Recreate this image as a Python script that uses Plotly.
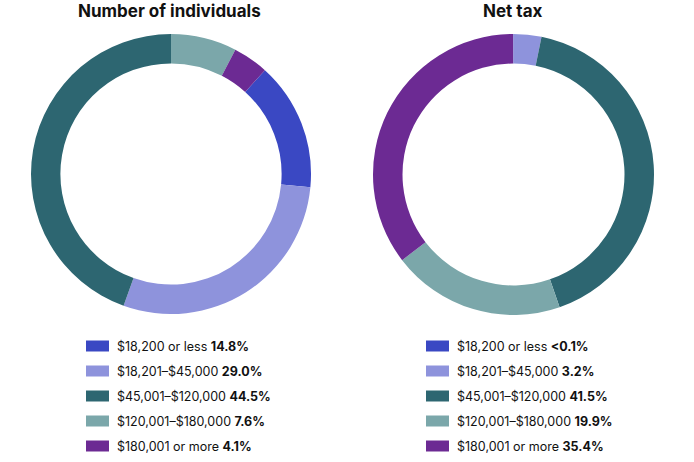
import plotly.graph_objects as go

categories = ["$18,200 or less", "$18,201–$45,000", "$45,001–$120,000",
              "$120,001–$180,000", "$180,001 or more"]
individuals_pct = [14.8, 29.0, 44.5, 7.6, 4.1]
net_tax_pct = [0.05, 3.2, 41.5, 19.9, 35.4]
titles = ["Number of individuals", "Net tax"]
colors = ["#3a48c3", "#8e93dc", "#2d6671", "#7ba7aa", "#6c2a93"]

W, H = 694, 462
FONT = "Inter"


def fmt(v):
    return "&lt;0.1%" if v < 0.1 else f"{v:.1f}%"


fig = go.Figure()

# pixel geometry of each donut: (left, top, size)
geoms = [(31, 34, 280), (373, 34, 281)]
series = [individuals_pct, net_tax_pct]
# rotation so slice order matches reference (clockwise)
rotations = [sum(individuals_pct[3:]) / sum(individuals_pct) * 360,
             -net_tax_pct[0] / sum(net_tax_pct) * 360]

for (lx, ty, s), vals, rot in zip(geoms, series, rotations):
    fig.add_trace(go.Pie(
        labels=categories, values=vals, hole=0.79, sort=False,
        direction="clockwise", rotation=rot,
        marker=dict(colors=colors, line=dict(width=0)),
        textinfo="none", hoverinfo="label+percent", showlegend=False,
        domain=dict(x=[lx / W, (lx + s) / W], y=[1 - (ty + s) / H, 1 - ty / H]),
    ))

shapes = []
annotations = []
title_cx = [169, 513]
legend_x = [86, 426]
row_y = [346, 371, 396, 421, 446]

for k in range(2):
    annotations.append(dict(
        x=title_cx[k] / W, y=1 + 1 / H, xref="paper", yref="paper",
        xanchor="center", yanchor="top", showarrow=False,
        text=f"<b>{titles[k]}</b>",
        font=dict(family=FONT, size=17, color="#111111"),
    ))
    for i, cat in enumerate(categories):
        yc = row_y[i]
        shapes.append(dict(
            type="rect", xref="paper", yref="paper",
            x0=legend_x[k] / W, x1=(legend_x[k] + 23) / W,
            y0=1 - (yc + 5.5) / H, y1=1 - (yc - 5.5) / H,
            fillcolor=colors[i], line=dict(width=0),
        ))
        annotations.append(dict(
            x=(legend_x[k] + 29) / W, y=1 - yc / H, xref="paper", yref="paper",
            xanchor="left", yanchor="middle", showarrow=False,
            text=f"{cat} <b>{fmt(series[k][i])}</b>",
            font=dict(family=FONT, size=12.5, color="#111111"),
        ))

fig.update_layout(
    width=W, height=H, margin=dict(l=0, r=0, t=0, b=0),
    paper_bgcolor="white", plot_bgcolor="white",
    shapes=shapes, annotations=annotations, showlegend=False,
)

fig.write_html("out.html", config={"displayModeBar": False},
               post_script="document.body.style.margin='0';")
